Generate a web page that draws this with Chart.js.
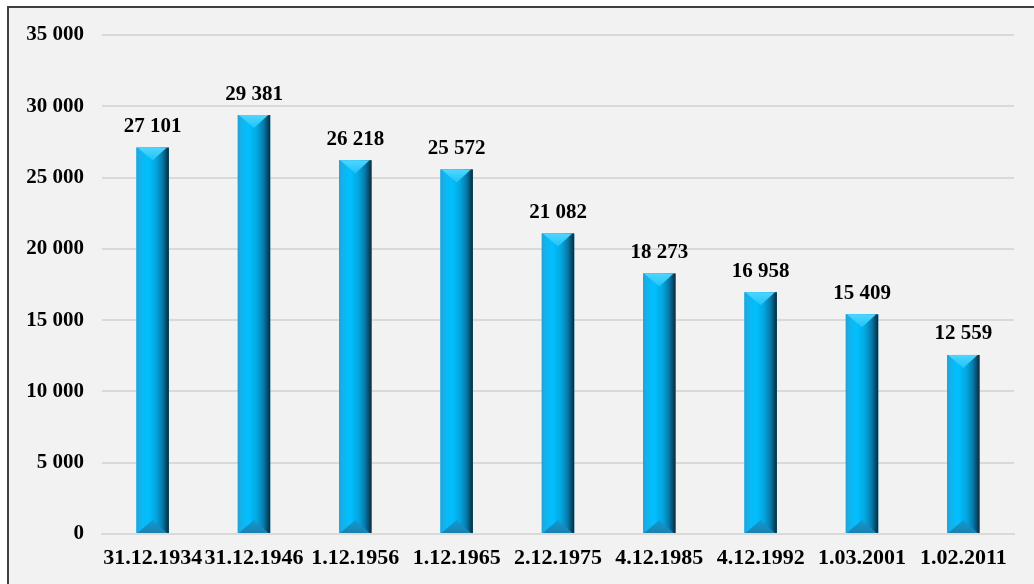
<!DOCTYPE html>
<html>
<head>
<meta charset="utf-8">
<script src="https://cdn.jsdelivr.net/npm/chart.js@4"></script>
<style>
  html, body { margin: 0; padding: 0; background: #fff; }
  #wrap { width: 1034px; height: 584px; position: relative; }
</style>
</head>
<body>
<div id="wrap"><canvas id="popChart"></canvas></div>
<script>
// census dates and population
const CATEGORIES = ["31.12.1934", "31.12.1946", "1.12.1956", "1.12.1965", "2.12.1975",
                    "4.12.1985", "4.12.1992", "1.03.2001", "1.02.2011"];
const POPULATION = [27101, 29381, 26218, 25572, 21082, 18273, 16958, 15409, 12559];
const Y_MAX = 35000;
const Y_STEP = 5000;

const SERIF = "'Liberation Serif', 'Times New Roman', serif";

function fmt(n) {
  return String(n).replace(/\B(?=(\d{3})+(?!\d))/g, " ");
}

// frame + grey background
const framePlugin = {
  id: "frame",
  beforeDraw(chart) {
    const c = chart.ctx;
    c.save();
    c.fillStyle = "#ffffff";
    c.fillRect(0, 0, chart.width, chart.height);
    c.fillStyle = "#f2f2f2";
    c.fillRect(8, 7, chart.width, chart.height);
    c.strokeStyle = "#404040";
    c.lineWidth = 2;
    c.beginPath();
    c.moveTo(8, chart.height + 5);
    c.lineTo(8, 7);
    c.lineTo(chart.width + 5, 7);
    c.stroke();
    c.restore();
  }
};

// cylinder-like shading over each bar + value labels
const barStylePlugin = {
  id: "barStyle",
  afterDatasetsDraw(chart) {
    const c = chart.ctx;
    const meta = chart.getDatasetMeta(0);
    meta.data.forEach((bar, i) => {
      const { x, y, base, width } = bar.getProps(["x", "y", "base", "width"], true);
      const l = x - width / 2, r = x + width / 2;
      const h = base - y;
      c.save();
      const g = c.createLinearGradient(l, 0, r, 0);
      g.addColorStop(0, "#2a9fd0");
      g.addColorStop(0.1, "#12b2ec");
      g.addColorStop(0.35, "#00c0ff");
      g.addColorStop(0.6, "#05a6de");
      g.addColorStop(0.8, "#0679aa");
      g.addColorStop(0.92, "#064a6a");
      g.addColorStop(1, "#0b2a3a");
      c.fillStyle = g;
      c.fillRect(l, y, width, h);

      const bev = Math.min(13, h / 2);
      // top bevel
      const gt = c.createLinearGradient(0, y, 0, y + bev);
      gt.addColorStop(0, "#4fd6ff");
      gt.addColorStop(1, "#1fc3f8");
      c.fillStyle = gt;
      c.beginPath();
      c.moveTo(l + 1, y);
      c.lineTo(r - 2, y);
      c.lineTo(x, y + bev);
      c.closePath();
      c.fill();
      // bottom bevel
      const gb = c.createLinearGradient(0, base - bev, 0, base);
      gb.addColorStop(0, "#129bd2");
      gb.addColorStop(1, "#1a80b0");
      c.fillStyle = gb;
      c.beginPath();
      c.moveTo(l + 1, base);
      c.lineTo(r - 2, base);
      c.lineTo(x, base - bev);
      c.closePath();
      c.fill();
      c.restore();

      // value label
      c.save();
      c.font = "bold 21px " + SERIF;
      c.fillStyle = "#000";
      c.textAlign = "center";
      c.textBaseline = "middle";
      c.fillText(fmt(POPULATION[i]), x, y - 21);
      c.restore();
    });
  }
};

new Chart(document.getElementById("popChart"), {
  type: "bar",
  data: {
    labels: CATEGORIES,
    datasets: [{
      data: POPULATION,
      backgroundColor: "#00b0f0",
      borderWidth: 0,
      categoryPercentage: 1,
      barPercentage: 0.32,
    }]
  },
  options: {
    responsive: true, maintainAspectRatio: false, animation: false,
    layout: { padding: { left: 0, right: 20, top: 35, bottom: 0 } },
    plugins: { legend: { display: false }, tooltip: { enabled: false } },
    scales: {
      x: {
        afterFit: s => { s.height = 50; },
        grid: { display: false, drawTicks: false },
        border: { display: true, color: "#d9d9d9", width: 2 },
        ticks: { color: "#000", padding: 11, maxRotation: 0, autoSkip: false,
                 font: { family: SERIF, size: 22, weight: "bold" } }
      },
      y: {
        min: 0, max: Y_MAX,
        afterFit: s => { s.width = 102; },
        border: { display: false },
        grid: { color: "#d9d9d9", lineWidth: 2, drawTicks: false },
        ticks: {
          stepSize: Y_STEP, color: "#000", padding: 18,
          font: { family: SERIF, size: 21, weight: "bold" },
          callback: v => fmt(v)
        }
      }
    }
  },
  plugins: [framePlugin, barStylePlugin]
});
</script>
</body>
</html>
